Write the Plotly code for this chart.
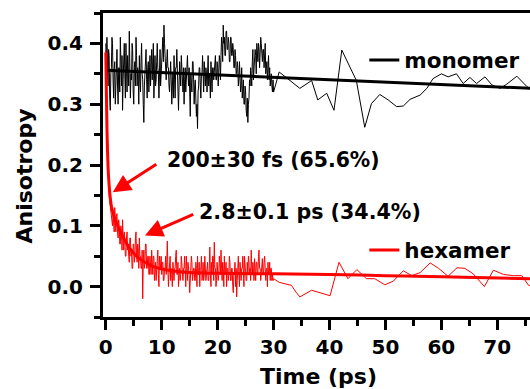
import plotly.graph_objects as go

# ---------------- data ----------------
dense_start = 0.0
dense_step = 0.1
dense_n = 300
dense_t = [round(dense_start + i * dense_step, 2) for i in range(dense_n)]

monomer_dense = [
    0.40, 0.35, 0.41, 0.37, 0.33, 0.39, 0.38, 0.31, 0.29, 0.35, 0.36, 0.41, 0.40, 0.34, 0.31, 0.36, 0.37, 0.30, 0.34, 0.38,
    0.39, 0.33, 0.30, 0.36, 0.36, 0.32, 0.41, 0.37, 0.33, 0.38, 0.29, 0.34, 0.37, 0.40, 0.35, 0.31, 0.40, 0.36, 0.32, 0.38,
    0.36, 0.33, 0.42, 0.37, 0.31, 0.35, 0.34, 0.40, 0.39, 0.32, 0.30, 0.36, 0.37, 0.33, 0.41, 0.38, 0.33, 0.36, 0.35, 0.30,
    0.38, 0.34, 0.32, 0.37, 0.40, 0.35, 0.34, 0.30, 0.27, 0.33, 0.36, 0.39, 0.39, 0.34, 0.31, 0.36, 0.37, 0.32, 0.35, 0.38,
    0.33, 0.37, 0.39, 0.34, 0.36, 0.40, 0.31, 0.35, 0.38, 0.33, 0.34, 0.37, 0.40, 0.36, 0.35, 0.31, 0.37, 0.39, 0.33, 0.36,
    0.36, 0.39, 0.41, 0.37, 0.43, 0.40, 0.38, 0.35, 0.34, 0.37, 0.39, 0.36, 0.36, 0.33, 0.32, 0.35, 0.37, 0.34, 0.30, 0.33,
    0.35, 0.31, 0.38, 0.34, 0.31, 0.36, 0.36, 0.39, 0.34, 0.30, 0.29, 0.33, 0.37, 0.35, 0.33, 0.38, 0.35, 0.32, 0.32, 0.36,
    0.30, 0.34, 0.36, 0.32, 0.34, 0.37, 0.38, 0.35, 0.33, 0.36, 0.31, 0.28, 0.35, 0.32, 0.32, 0.37, 0.37, 0.34, 0.30, 0.33,
    0.34, 0.31, 0.28, 0.30, 0.26, 0.32, 0.33, 0.36, 0.36, 0.33, 0.31, 0.35, 0.35, 0.38, 0.34, 0.32, 0.37, 0.35, 0.33, 0.36,
    0.35, 0.32, 0.36, 0.38, 0.33, 0.35, 0.34, 0.31, 0.37, 0.35, 0.32, 0.36, 0.36, 0.34, 0.35, 0.37, 0.38, 0.34, 0.34, 0.37,
    0.36, 0.33, 0.35, 0.38, 0.37, 0.34, 0.38, 0.41, 0.40, 0.37, 0.43, 0.40, 0.41, 0.38, 0.38, 0.42, 0.42, 0.39, 0.39, 0.41,
    0.40, 0.37, 0.37, 0.41, 0.41, 0.38, 0.38, 0.40, 0.39, 0.36, 0.36, 0.39, 0.38, 0.35, 0.35, 0.37, 0.36, 0.33, 0.34, 0.37,
    0.35, 0.32, 0.33, 0.36, 0.31, 0.34, 0.34, 0.30, 0.30, 0.33, 0.32, 0.29, 0.28, 0.31, 0.27, 0.30, 0.31, 0.34, 0.33, 0.36,
    0.35, 0.33, 0.37, 0.39, 0.34, 0.37, 0.36, 0.39, 0.38, 0.35, 0.40, 0.38, 0.37, 0.40, 0.39, 0.36, 0.38, 0.41, 0.40, 0.37,
    0.37, 0.39, 0.39, 0.36, 0.38, 0.40, 0.35, 0.37, 0.37, 0.34, 0.36, 0.38, 0.34, 0.36, 0.33, 0.35, 0.35, 0.33, 0.32, 0.34,
]

hexamer_dense = [
    0.39, 0.33, 0.27, 0.23, 0.19, 0.17, 0.15, 0.14, 0.14, 0.12, 0.12, 0.105, 0.10, 0.12, 0.11, 0.09, 0.13, 0.10, 0.09, 0.115,
    0.12, 0.09, 0.08, 0.11, 0.10, 0.07, 0.07, 0.10, 0.09, 0.06, 0.11, 0.08, 0.06, 0.09, 0.08, 0.05, 0.05, 0.08, 0.09, 0.06,
    0.07, 0.05, 0.04, 0.08, 0.08, 0.05, 0.06, 0.03, 0.03, 0.07, 0.07, 0.04, 0.05, 0.08, 0.09, 0.05, 0.04, 0.07, 0.06, 0.03,
    0.08, 0.05, 0.05, 0.03, 0.03, 0.06, -0.02, 0.04, 0.06, 0.03, 0.04, 0.07, 0.07, 0.03, 0.03, 0.05, 0.05, 0.02, 0.02, 0.05,
    0.04, 0.02, 0.06, 0.03, 0.02, 0.05, 0.05, 0.01, 0.03, 0.04, 0.01, 0.03, 0.04, 0.06, 0.02, 0.00, 0.05, 0.03, 0.03, 0.05,
    0.02, 0.04, 0.04, 0.01, 0.01, 0.03, 0.03, 0.05, 0.02, 0.04, 0.075, 0.03, 0.00, 0.02, 0.03, 0.05, 0.01, 0.03, 0.02, 0.00,
    0.04, 0.02, 0.01, 0.03, 0.03, 0.05, 0.06, 0.02, 0.02, 0.04, 0.00, 0.02, 0.03, 0.01, 0.02, 0.05, 0.04, 0.02, 0.01, 0.03,
    0.03, 0.05, 0.02, 0.00, 0.05, 0.03, 0.01, 0.04, 0.03, 0.02, -0.01, 0.02, 0.02, 0.05, 0.04, 0.01, 0.02, 0.03, 0.03, 0.01,
    0.01, 0.04, 0.03, 0.00, 0.05, 0.02, 0.02, 0.04, 0.00, 0.03, 0.03, 0.05, 0.01, 0.02, 0.04, 0.01, 0.02, 0.05, 0.03, 0.01,
    0.02, 0.04, 0.04, 0.01, 0.01, 0.03, 0.065, 0.02, 0.00, 0.04, 0.02, 0.05, 0.05, 0.01, 0.073, 0.03, 0.03, 0.00, 0.01, 0.04,
    0.03, 0.01, 0.02, 0.05, 0.04, 0.02, 0.06, 0.03, 0.01, 0.04, 0.03, 0.00, 0.05, 0.02, 0.02, 0.04, 0.00, 0.03, 0.03, 0.01,
    0.02, 0.05, 0.04, 0.01, 0.01, 0.03, 0.03, 0.00, -0.01, 0.02, 0.02, 0.04, 0.00, 0.03, -0.017, 0.01, 0.03, 0.05, 0.02, 0.00,
    0.04, 0.02, 0.01, 0.03, 0.03, 0.05, 0.02, 0.00, 0.05, 0.03, 0.03, 0.01, 0.01, 0.04, 0.02, 0.05, 0.04, 0.02, 0.03, 0.01,
    0.06, 0.03, 0.02, 0.04, 0.03, 0.01, 0.046, 0.02, 0.01, 0.04, 0.04, 0.02, 0.02, 0.05, 0.06, 0.03, 0.03, 0.01, 0.02, 0.04,
    0.046, 0.02, 0.02, 0.04, 0.05, 0.03, 0.01, 0.03, 0.03, 0.00, 0.04, 0.02, 0.02, 0.04, 0.01, 0.03, 0.03, 0.01, 0.02, 0.01,
]

monomer_sparse_t = [30.0, 31.0, 34.7, 36.8, 37.9, 39.5, 40.8, 42.2, 44.8, 46.3,
                    47.5, 49.0, 50.5, 52.0, 53.2, 54.4, 56.2, 57.4, 58.5, 60.0,
                    61.2, 62.7, 63.9, 65.1, 66.3, 67.8, 69.0, 70.5, 71.7, 73.5,
                    75.3, 76.5]
monomer_sparse = [0.320, 0.353, 0.326, 0.339, 0.307, 0.318, 0.290, 0.389, 0.339, 0.262,
                  0.301, 0.316, 0.307, 0.296, 0.297, 0.308, 0.315, 0.326, 0.342, 0.350,
                  0.345, 0.350, 0.334, 0.344, 0.334, 0.345, 0.332, 0.326, 0.333, 0.346,
                  0.329, 0.320]

hexamer_sparse_t = [30.0, 31.0, 33.2, 34.0, 34.7, 36.8, 40.1, 41.7, 43.3, 44.9,
                    46.6, 48.1, 49.9, 51.4, 53.2, 54.7, 56.2, 58.0, 59.5, 61.2,
                    62.8, 64.2, 65.7, 67.7, 69.3, 71.1, 72.9, 74.4, 75.6, 76.5]
hexamer_sparse = [0.013, 0.007, 0.002, -0.009, -0.017, -0.006, -0.015, 0.040, 0.013, 0.028,
                  0.013, 0.013, 0.003, 0.009, 0.026, 0.018, 0.023, 0.039, 0.030, 0.017,
                  0.031, 0.030, 0.021, 0.000, 0.027, 0.020, 0.018, 0.018, 0.002, 0.000]

monomer_fit_t = [0.0, 76.5]
monomer_fit = [0.356, 0.326]

hexamer_fit_t = [0.0, 0.1, 0.2, 0.3, 0.5, 0.7, 1.0, 1.5, 2.0, 3.0, 4.0, 5.0, 6.0,
                 8.0, 10.0, 15.0, 20.0, 30.0, 40.0, 50.0, 60.0, 76.5]
hexamer_fit = [0.385, 0.32, 0.265, 0.225, 0.18, 0.155, 0.132, 0.115, 0.103, 0.083,
               0.067, 0.055, 0.046, 0.035, 0.029, 0.023, 0.022, 0.021, 0.020, 0.018,
               0.016, 0.013]

x_ticks = [0, 10, 20, 30, 40, 50, 60, 70]
y_ticks = [0.0, 0.1, 0.2, 0.3, 0.4]

x_title = "Time (ps)"
y_title = "Anisotropy"
ann1_text = "200\u00b130 fs (65.6%)"
ann2_text = "2.8\u00b10.1 ps (34.4%)"

# ---------------- figure ----------------
FONT = "DejaVu Sans"
fig = go.Figure()

fig.add_trace(go.Scatter(x=dense_t + monomer_sparse_t, y=monomer_dense + monomer_sparse,
                         mode="lines", line=dict(color="black", width=1.0),
                         showlegend=False, hoverinfo="skip"))
fig.add_trace(go.Scatter(x=monomer_fit_t, y=monomer_fit, mode="lines",
                         line=dict(color="black", width=3), name="monomer",
                         legend="legend"))
fig.add_trace(go.Scatter(x=dense_t + hexamer_sparse_t, y=hexamer_dense + hexamer_sparse,
                         mode="lines", line=dict(color="#ff0000", width=1.0),
                         showlegend=False, hoverinfo="skip"))
fig.add_trace(go.Scatter(x=hexamer_fit_t, y=hexamer_fit, mode="lines",
                         line=dict(color="#ff0000", width=3, shape="spline"),
                         name="hexamer", legend="legend2"))

axis_common = dict(
    showline=True, linecolor="black", linewidth=3,
    ticks="outside", ticklen=10, tickwidth=3, tickcolor="black",
    showgrid=False, zeroline=False, automargin=False,
    tickfont=dict(family=FONT, size=20, color="black", weight="bold"),
)

fig.update_xaxes(
    range=[-0.5, 75.85], tickvals=x_ticks, mirror=True,
    minor=dict(dtick=5, tick0=0, ticks="outside", ticklen=6, tickwidth=3, tickcolor="black"),
    **axis_common,
)
fig.update_yaxes(
    range=[-0.05, 0.45], tickvals=y_ticks, tickformat=".1f",
    minor=dict(dtick=0.05, tick0=0, ticks="outside", ticklen=6, tickwidth=3, tickcolor="black"),
    ticklabelstandoff=3,
    **axis_common,
)

title_font = dict(family=FONT, size=22, color="black", weight="bold")
fig.add_annotation(xref="paper", yref="paper", x=-0.183, y=0.465,
                   xanchor="center", yanchor="middle",
                   text=y_title, textangle=-90, showarrow=False, font=title_font)
fig.add_annotation(xref="paper", yref="paper", x=0.505, y=-0.195,
                   xanchor="center", yanchor="middle",
                   text=x_title, showarrow=False, font=title_font)

# arrows
fig.add_annotation(x=1.25, y=0.155, ax=9.3, ay=0.203, axref="x", ayref="y",
                   text="", showarrow=True, arrowhead=2, arrowsize=1.2,
                   arrowwidth=3, arrowcolor="#ff0000", standoff=0)
fig.add_annotation(x=7.0, y=0.084, ax=15.9, ay=0.12, axref="x", ayref="y",
                   text="", showarrow=True, arrowhead=2, arrowsize=1.2,
                   arrowwidth=3, arrowcolor="#ff0000", standoff=0)
fig.add_annotation(x=29.96, y=0.209, xanchor="center", yanchor="middle",
                   text=ann1_text, showarrow=False,
                   font=dict(family=FONT, size=20.4, color="black", weight="bold"))
fig.add_annotation(x=36.6, y=0.123, xanchor="center", yanchor="middle",
                   text=ann2_text, showarrow=False,
                   font=dict(family=FONT, size=20.6, color="black", weight="bold"))

legend_font = dict(family=FONT, size=21.5, color="black", weight="bold")
fig.update_layout(
    width=530, height=389,
    margin=dict(l=103, r=0, t=13, b=72, autoexpand=False),
    paper_bgcolor="white", plot_bgcolor="white",
    legend=dict(x=0.612, y=0.845, xanchor="left", yanchor="middle",
                bgcolor="rgba(0,0,0,0)", font=legend_font),
    legend2=dict(x=0.612, y=0.22, xanchor="left", yanchor="middle",
                 bgcolor="rgba(0,0,0,0)", font=legend_font),
)

page_css = ("document.documentElement.style.margin='0';"
            "document.body.style.margin='0';"
            "document.body.style.padding='0';"
            "document.body.style.overflow='hidden';")
fig.write_html("out.html", post_script=page_css, config={"displayModeBar": False})
